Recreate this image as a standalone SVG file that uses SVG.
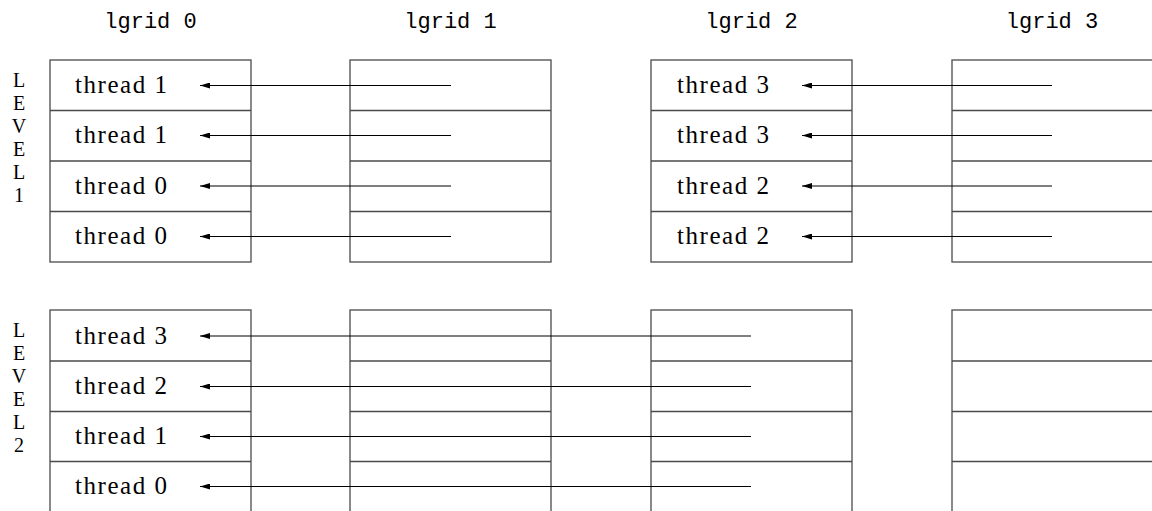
<svg xmlns="http://www.w3.org/2000/svg" width="1152" height="511" viewBox="0 0 1152 511">
<style>
.box{fill:none;stroke:#4a4a4a;stroke-width:1.3}
.div{stroke:#4a4a4a;stroke-width:1.3}
.arr{stroke:#000;stroke-width:1.1;fill:none;marker-end:url(#ah)}
.hdr{font-family:"Liberation Mono",monospace;font-size:22px;fill:#000;text-anchor:middle}
.th{font-family:"Liberation Serif",serif;font-size:25px;fill:#000}
.lv{font-family:"Liberation Serif",serif;font-size:20px;fill:#000;text-anchor:middle}
</style>
<defs>
<marker id="ah" viewBox="0 0 10 6" refX="10" refY="3" markerWidth="10" markerHeight="6" markerUnits="userSpaceOnUse" orient="auto">
<path d="M0,0 L10,3 L0,6 Z" fill="#000"/>
</marker>
</defs>
<rect width="1152" height="511" fill="#fff"/>
<g id="headers">
<text class="hdr" x="150.5" y="28">lgrid 0</text>
<text class="hdr" x="450.5" y="28">lgrid 1</text>
<text class="hdr" x="751.5" y="28">lgrid 2</text>
<text class="hdr" x="1052" y="28">lgrid 3</text>
</g>
<g id="level1-label">
<text class="lv" x="19" y="87">L</text>
<text class="lv" x="19" y="110">E</text>
<text class="lv" x="19" y="133">V</text>
<text class="lv" x="19" y="156">E</text>
<text class="lv" x="19" y="179">L</text>
<text class="lv" x="19" y="202">1</text>
</g>
<g id="level2-label">
<text class="lv" x="19" y="337">L</text>
<text class="lv" x="19" y="360">E</text>
<text class="lv" x="19" y="383">V</text>
<text class="lv" x="19" y="406">E</text>
<text class="lv" x="19" y="429">L</text>
<text class="lv" x="19" y="452">2</text>
</g>
<g id="l1-g0">
<rect class="box" x="50" y="60" width="201" height="202"/>
<line class="div" x1="50" y1="110.5" x2="251" y2="110.5"/>
<line class="div" x1="50" y1="161" x2="251" y2="161"/>
<line class="div" x1="50" y1="211.5" x2="251" y2="211.5"/>
<text class="th" x="75" y="93" textLength="92">thread 1</text>
<text class="th" x="75" y="143" textLength="92">thread 1</text>
<text class="th" x="75" y="193.5" textLength="92">thread 0</text>
<text class="th" x="75" y="244" textLength="92">thread 0</text>
</g>
<g id="l1-g1">
<rect class="box" x="350" y="60" width="201" height="202"/>
<line class="div" x1="350" y1="110.5" x2="551" y2="110.5"/>
<line class="div" x1="350" y1="161" x2="551" y2="161"/>
<line class="div" x1="350" y1="211.5" x2="551" y2="211.5"/>
</g>
<g id="l1-g2">
<rect class="box" x="651" y="60" width="201" height="202"/>
<line class="div" x1="651" y1="110.5" x2="852" y2="110.5"/>
<line class="div" x1="651" y1="161" x2="852" y2="161"/>
<line class="div" x1="651" y1="211.5" x2="852" y2="211.5"/>
<text class="th" x="677" y="93" textLength="92">thread 3</text>
<text class="th" x="677" y="143" textLength="92">thread 3</text>
<text class="th" x="677" y="193.5" textLength="92">thread 2</text>
<text class="th" x="677" y="244" textLength="92">thread 2</text>
</g>
<g id="l1-g3">
<rect class="box" x="952" y="60" width="202" height="202"/>
<line class="div" x1="952" y1="110.5" x2="1152" y2="110.5"/>
<line class="div" x1="952" y1="161" x2="1152" y2="161"/>
<line class="div" x1="952" y1="211.5" x2="1152" y2="211.5"/>
</g>
<g id="l2-g0">
<rect class="box" x="50" y="310" width="201" height="203"/>
<line class="div" x1="50" y1="361" x2="251" y2="361"/>
<line class="div" x1="50" y1="411.5" x2="251" y2="411.5"/>
<line class="div" x1="50" y1="461.5" x2="251" y2="461.5"/>
<text class="th" x="75" y="344" textLength="92">thread 3</text>
<text class="th" x="75" y="394" textLength="92">thread 2</text>
<text class="th" x="75" y="444" textLength="92">thread 1</text>
<text class="th" x="75" y="494" textLength="92">thread 0</text>
</g>
<g id="l2-g1">
<rect class="box" x="350" y="310" width="201" height="203"/>
<line class="div" x1="350" y1="361" x2="551" y2="361"/>
<line class="div" x1="350" y1="411.5" x2="551" y2="411.5"/>
<line class="div" x1="350" y1="461.5" x2="551" y2="461.5"/>
</g>
<g id="l2-g2">
<rect class="box" x="651" y="310" width="201" height="203"/>
<line class="div" x1="651" y1="361" x2="852" y2="361"/>
<line class="div" x1="651" y1="411.5" x2="852" y2="411.5"/>
<line class="div" x1="651" y1="461.5" x2="852" y2="461.5"/>
</g>
<g id="l2-g3">
<rect class="box" x="952" y="310" width="202" height="203"/>
<line class="div" x1="952" y1="361" x2="1152" y2="361"/>
<line class="div" x1="952" y1="411.5" x2="1152" y2="411.5"/>
<line class="div" x1="952" y1="461.5" x2="1152" y2="461.5"/>
</g>
<g id="connectors">
<line class="arr" x1="451" y1="85.5" x2="200" y2="85.5"/>
<line class="arr" x1="451" y1="135.5" x2="200" y2="135.5"/>
<line class="arr" x1="451" y1="186" x2="200" y2="186"/>
<line class="arr" x1="451" y1="236.5" x2="200" y2="236.5"/>
<line class="arr" x1="1052" y1="85.5" x2="802" y2="85.5"/>
<line class="arr" x1="1052" y1="135.5" x2="802" y2="135.5"/>
<line class="arr" x1="1052" y1="186" x2="802" y2="186"/>
<line class="arr" x1="1052" y1="236.5" x2="802" y2="236.5"/>
<line class="arr" x1="751" y1="336" x2="200" y2="336"/>
<line class="arr" x1="751" y1="386.5" x2="200" y2="386.5"/>
<line class="arr" x1="751" y1="436.5" x2="200" y2="436.5"/>
<line class="arr" x1="751" y1="486.5" x2="200" y2="486.5"/>
</g>
</svg>
